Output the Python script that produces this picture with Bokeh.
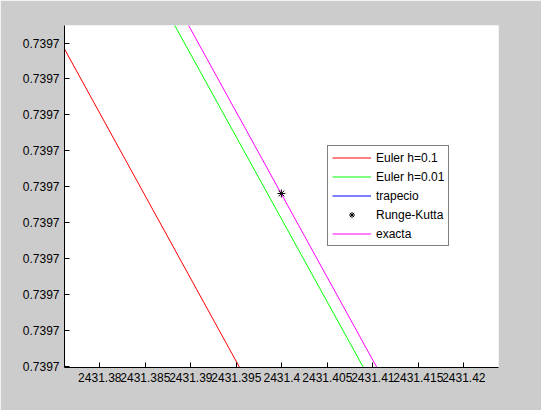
from bokeh.plotting import figure
from bokeh.models import FixedTicker, Legend, LegendItem, Range1d
from bokeh.embed import file_html
from bokeh.resources import INLINE

# ---- data ----
x_ticks = [2431.38, 2431.385, 2431.39, 2431.395, 2431.4, 2431.405, 2431.41, 2431.415, 2431.42]
x_tick_labels = ["2431.38", "2431.385", "2431.39", "2431.395", "2431.4",
                 "2431.405", "2431.41", "2431.415", "2431.42"]
y_ticks = [0.739696, 0.739698, 0.739700, 0.739702, 0.739704,
           0.739706, 0.739708, 0.739710, 0.739712, 0.739714]
y_tick_labels = ["0.7397"] * len(y_ticks)

euler01_x = [2431.375, 2431.396]
euler01_y = [0.7397147, 0.73969534]
euler001_x = [2431.388, 2431.409]
euler001_y = [0.7397152, 0.7396959]
trapecio_x = [2431.3895, 2431.4105]
trapecio_y = [0.73971522, 0.73969588]
rk_x = [2431.39995]
rk_y = [0.739705622]
exacta_x = [2431.3895, 2431.4105]
exacta_y = [0.73971522, 0.73969588]

x_range = (2431.37612, 2431.42381)
y_range = (0.739695928, 0.73971498)

FONT = "Liberation Sans"

p = figure(width=541, height=410, output_backend="svg", toolbar_location=None,
           x_range=Range1d(*x_range), y_range=Range1d(*y_range),
           min_border_left=64, min_border_right=43, min_border_top=25, min_border_bottom=43)
p.background_fill_color = "white"
p.border_fill_color = "#cccccc"
p.outline_line_color = None
p.xgrid.visible = False
p.ygrid.visible = False

r_red = p.line(euler01_x, euler01_y, line_color="#ff0000", line_width=1)
r_green = p.line(euler001_x, euler001_y, line_color="#00ff00", line_width=1)
# trapecio lies exactly beneath the exact solution, so it is hidden by it
r_blue = p.line(trapecio_x, trapecio_y, line_color="#0000ff", line_width=1, visible=False)
r_mag = p.line(exacta_x, exacta_y, line_color="#ff00ff", line_width=1)
r_rk = p.scatter(rk_x, rk_y, marker="asterisk", size=8, line_color="black", line_width=1)

for ax in (p.xaxis[0], p.yaxis[0]):
    ax.axis_line_color = "black"
    ax.major_tick_line_color = "black"
    ax.major_tick_in = 5
    ax.major_tick_out = 0
    ax.minor_tick_line_color = None
    ax.major_label_text_font = FONT
    ax.major_label_text_font_size = "12px"
    ax.major_label_text_color = "black"
    ax.major_label_standoff = 5

p.xaxis[0].ticker = FixedTicker(ticks=x_ticks)
p.xaxis[0].major_label_overrides = {t: l for t, l in zip(x_ticks, x_tick_labels)}
p.yaxis[0].ticker = FixedTicker(ticks=y_ticks)
p.yaxis[0].major_label_overrides = {t: l for t, l in zip(y_ticks, y_tick_labels)}

legend = Legend(items=[
    LegendItem(label="Euler h=0.1", renderers=[r_red]),
    LegendItem(label="Euler h=0.01", renderers=[r_green]),
    LegendItem(label="trapecio", renderers=[r_blue]),
    LegendItem(label="Runge-Kutta", renderers=[r_rk]),
    LegendItem(label="exacta", renderers=[r_mag]),
], location=(263, 121))
legend.label_text_font = FONT
legend.label_text_font_size = "12px"
legend.label_text_color = "black"
legend.glyph_width = 39
legend.glyph_height = 15
legend.label_height = 15
legend.spacing = 4
legend.padding = 4
legend.margin = 0
legend.label_standoff = 5
legend.border_line_color = "black"
legend.border_line_width = 1
legend.background_fill_color = "white"
legend.background_fill_alpha = 1
legend.inactive_fill_alpha = 0
legend.click_policy = "none"
p.add_layout(legend, "center")

open("out.html", "w").write(file_html(p, INLINE))
